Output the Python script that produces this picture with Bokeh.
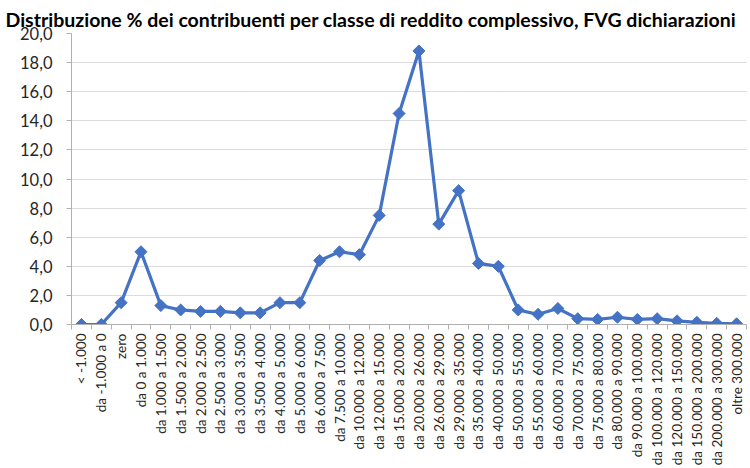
import math
from bokeh.plotting import figure
from bokeh.models import Range1d, FixedTicker
from bokeh.embed import file_html
from bokeh.resources import INLINE

title_text = "Distribuzione % dei contribuenti per classe di reddito complessivo, FVG dichiarazioni"

categories = [
    "< -1.000", "da -1.000 a 0", "zero", "da 0 a 1.000", "da 1.000 a 1.500",
    "da 1.500 a 2.000", "da 2.000 a 2.500", "da 2.500 a 3.000", "da 3.000 a 3.500",
    "da 3.500 a 4.000", "da 4.000 a 5.000", "da 5.000 a 6.000", "da 6.000 a 7.500",
    "da 7.500 a 10.000", "da 10.000 a 12.000", "da 12.000 a 15.000",
    "da 15.000 a 20.000", "da 20.000 a 26.000", "da 26.000 a 29.000",
    "da 29.000 a 35.000", "da 35.000 a 40.000", "da 40.000 a 50.000",
    "da 50.000 a 55.000", "da 55.000 a 60.000", "da 60.000 a 70.000",
    "da 70.000 a 75.000", "da 75.000 a 80.000", "da 80.000 a 90.000",
    "da 90.000 a 100.000", "da 100.000 a 120.000", "da 120.000 a 150.000",
    "da 150.000 a 200.000", "da 200.000 a 300.000", "oltre 300.000",
]

values = [
    0.0, 0.0, 1.5, 5.0, 1.3,
    1.0, 0.9, 0.9, 0.8,
    0.8, 1.5, 1.5, 4.4,
    5.0, 4.8, 7.5,
    14.5, 18.8, 6.9,
    9.2, 4.2, 4.0,
    1.0, 0.7, 1.1,
    0.4, 0.35, 0.5,
    0.35, 0.4, 0.25,
    0.15, 0.08, 0.05,
]

y_ticks = [0, 2, 4, 6, 8, 10, 12, 14, 16, 18, 20]
y_tick_labels = ["0,0", "2,0", "4,0", "6,0", "8,0", "10,0", "12,0", "14,0", "16,0", "18,0", "20,0"]

x = list(range(len(categories)))

p = figure(width=750, height=468, output_backend="svg", toolbar_location=None,
           x_range=Range1d(-0.5, len(categories) - 0.5),
           y_range=Range1d(y_ticks[0], y_ticks[-1]),
           min_border_left=71, min_border_right=4, min_border_top=33, min_border_bottom=143)

p.title.text = title_text
p.title.align = "left"
p.title.offset = -66
p.title.text_font = "Lato"
p.title.text_font_style = "bold"
p.title.text_font_size = "19.5px"
p.title.text_color = "#000000"
p.title.standoff = 6

p.outline_line_color = None
p.xgrid.visible = False
p.ygrid.grid_line_color = "#b8b8b8"
p.ygrid.grid_line_dash = "1 1"
p.ygrid.grid_line_width = 1

axis_color = "#b0b0b0"
label_color = "#262626"

p.yaxis.ticker = FixedTicker(ticks=y_ticks)
p.yaxis.major_label_overrides = {t: l for t, l in zip(y_ticks, y_tick_labels)}
p.yaxis.axis_line_color = axis_color
p.yaxis.major_tick_line_color = axis_color
p.yaxis.major_tick_out = 5
p.yaxis.major_tick_in = 0
p.yaxis.minor_tick_line_color = None
p.yaxis.major_label_standoff = 14
p.yaxis.major_label_text_font = "Lato"
p.yaxis.major_label_text_font_size = "16.5px"
p.yaxis.major_label_text_color = label_color

p.xaxis.ticker = FixedTicker(ticks=x, minor_ticks=[i - 0.5 for i in range(len(categories) + 1)])
p.xaxis.major_label_overrides = {i: c for i, c in enumerate(categories)}
p.xaxis.major_label_orientation = math.pi / 2
p.xaxis.axis_line_color = axis_color
p.xaxis.major_tick_line_color = None
p.xaxis.major_tick_out = 0
p.xaxis.major_tick_in = 0
p.xaxis.minor_tick_line_color = axis_color
p.xaxis.minor_tick_out = 5
p.xaxis.minor_tick_in = 0
p.xaxis.major_label_standoff = 4
p.xaxis.major_label_text_font = "Lato"
p.xaxis.major_label_text_font_size = "13.5px"
p.xaxis.major_label_text_color = label_color

p.line(x, values, line_color="#4472C4", line_width=3.2)
p.scatter(x, values, marker="square", angle=math.pi / 4, size=8.5,
          fill_color="#4472C4", line_color="#4472C4")

open("out.html", "w").write(file_html(p, INLINE))
